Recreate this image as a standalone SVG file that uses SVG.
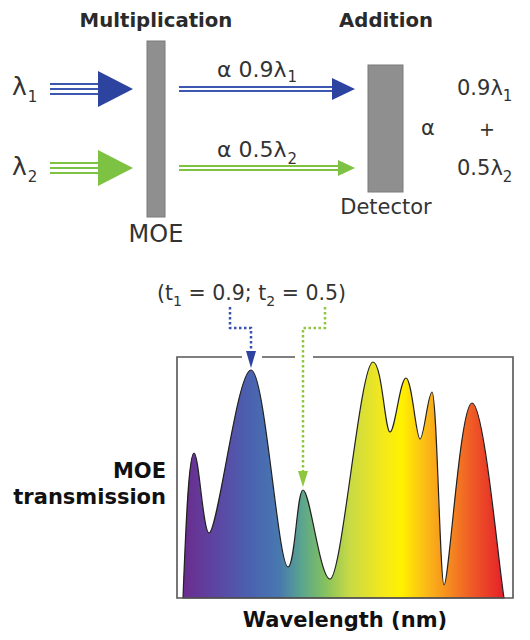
<svg xmlns="http://www.w3.org/2000/svg" width="530" height="640" viewBox="0 0 530 640">
<defs>
<style>
.t{font-family:"DejaVu Sans","Liberation Sans",sans-serif;fill:#333;}
.h{font-family:"DejaVu Sans","Liberation Sans",sans-serif;font-weight:bold;fill:#2a2a2a;}
.b{font-family:"DejaVu Sans","Liberation Sans",sans-serif;font-weight:bold;fill:#111;}
.s{font-size:15px;}
.bar{fill:#8f8f8f;stroke:#7a7a7a;stroke-width:1;}
.bl{stroke:#3b57b0;stroke-width:1.8;fill:none;}
.gl{stroke:#7dc242;stroke-width:1.8;fill:none;}
.bd{stroke:#3a52b0;stroke-width:2.5;stroke-dasharray:2.5 2.5;fill:none;}
.gd{stroke:#8dc63f;stroke-width:2.5;stroke-dasharray:2.5 2.5;fill:none;}
.box{stroke:#555;stroke-width:1.6;fill:none;}
</style>
<linearGradient id="spec" gradientUnits="userSpaceOnUse" x1="183" y1="0" x2="504" y2="0">
<stop offset="0" stop-color="#6a2c8e"/>
<stop offset="0.1" stop-color="#5d45a2"/>
<stop offset="0.21" stop-color="#4a62b0"/>
<stop offset="0.3" stop-color="#4878b0"/>
<stop offset="0.37" stop-color="#5aa58e"/>
<stop offset="0.44" stop-color="#82c060"/>
<stop offset="0.52" stop-color="#c9da45"/>
<stop offset="0.62" stop-color="#f3e81c"/>
<stop offset="0.68" stop-color="#fff200"/>
<stop offset="0.76" stop-color="#fbb817"/>
<stop offset="0.83" stop-color="#f58a1f"/>
<stop offset="0.9" stop-color="#ef5a26"/>
<stop offset="1" stop-color="#e4202a"/>
</linearGradient>
</defs>
<rect width="530" height="640" fill="#fff"/>

<g id="inputs">
<text class="t" x="12" y="95" font-size="25">λ<tspan class="s" dx="1" dy="7">1</tspan></text>
<text class="t" x="12" y="175" font-size="25">λ<tspan class="s" dx="1" dy="7">2</tspan></text>
</g>

<g id="moe">
<text class="h" x="156" y="27" font-size="19.7" text-anchor="middle">Multiplication</text>
<rect class="bar" x="147" y="41" width="18" height="176"/>
<text class="t" x="156" y="242" font-size="24" text-anchor="middle">MOE</text>
</g>

<g id="detector">
<text class="h" x="386" y="27" font-size="19.7" text-anchor="middle">Addition</text>
<rect class="bar" x="368" y="65" width="35" height="127"/>
<text class="t" x="386" y="214" font-size="21" text-anchor="middle">Detector</text>
</g>

<g id="result">
<text class="t" x="421" y="135" font-size="21">α</text>
<text class="t" x="457" y="95" font-size="21">0.9λ<tspan class="s" dy="6">1</tspan></text>
<text class="t" x="487" y="136" font-size="19" text-anchor="middle">+</text>
<text class="t" x="457" y="175" font-size="21">0.5λ<tspan class="s" dy="7">2</tspan></text>
</g>

<g id="connectors">
<path class="bl" d="M50 84H100M50 89H100M50 94H100"/>
<polygon points="98,71 133,89 98,107" fill="#2c44a0"/>
<path class="gl" d="M50 163H100M50 168H100M50 173H100"/>
<polygon points="98,150 133,168 98,186" fill="#7dc242"/>
<path class="bl" stroke-width="2" d="M179 87H334M179 91H334"/>
<polygon points="332,78 355,89 332,100" fill="#2c44a0"/>
<path class="gl" stroke-width="2" d="M179 166H340M179 170H340"/>
<polygon points="338,160 355,168 338,176" fill="#7dc242"/>
<text class="t" x="217" y="77" font-size="22">α 0.9λ<tspan class="s" dx="1" dy="5">1</tspan></text>
<text class="t" x="217" y="157" font-size="22">α 0.5λ<tspan class="s" dx="1" dy="7">2</tspan></text>
<path class="bd" d="M230 307V328H251V352"/>
<polygon points="246,351 256,351 251,368" fill="#2c44a0"/>
<path class="gd" d="M325 307V328H303V472"/>
<polygon points="298,471 308,471 303,487" fill="#8dc63f"/>
</g>

<g id="tlabel">
<text class="t" x="157" y="300" font-size="20.5">(t<tspan font-size="14" dy="6">1</tspan><tspan dy="-6"> = 0.9; t</tspan><tspan font-size="14" dy="6">2</tspan><tspan dy="-6"> = 0.5)</tspan></text>
</g>

<g id="chart">
<path d="M183 598 C186 520 189 453 194 453 C199 453 203 533 209 533 C218 533 237 370 251 370 C265 370 278 567 288 567 C295 567 297 490 303 490 C310 490 320 579 330 579 C342 579 360 362 373 362 C382 362 385 432 390 432 C395 432 400 378 406 378 C412 378 416 439 420 439 C424 439 428 392 432 392 C437 392 440 585 444 585 C449 585 460 403 472 403 C484 403 498 560 504 598 Z" fill="url(#spec)" stroke="#222" stroke-width="1.2"/>
<path class="box" d="M242 357H177V598H513V357H313M295 357H262"/>
</g>

<g id="axes">
<text class="b" x="166" y="478" font-size="21" text-anchor="end">MOE</text>
<text class="b" x="166" y="504" font-size="21" text-anchor="end">transmission</text>
<text class="b" x="345" y="627" font-size="21" text-anchor="middle">Wavelength (nm)</text>
</g>
</svg>
